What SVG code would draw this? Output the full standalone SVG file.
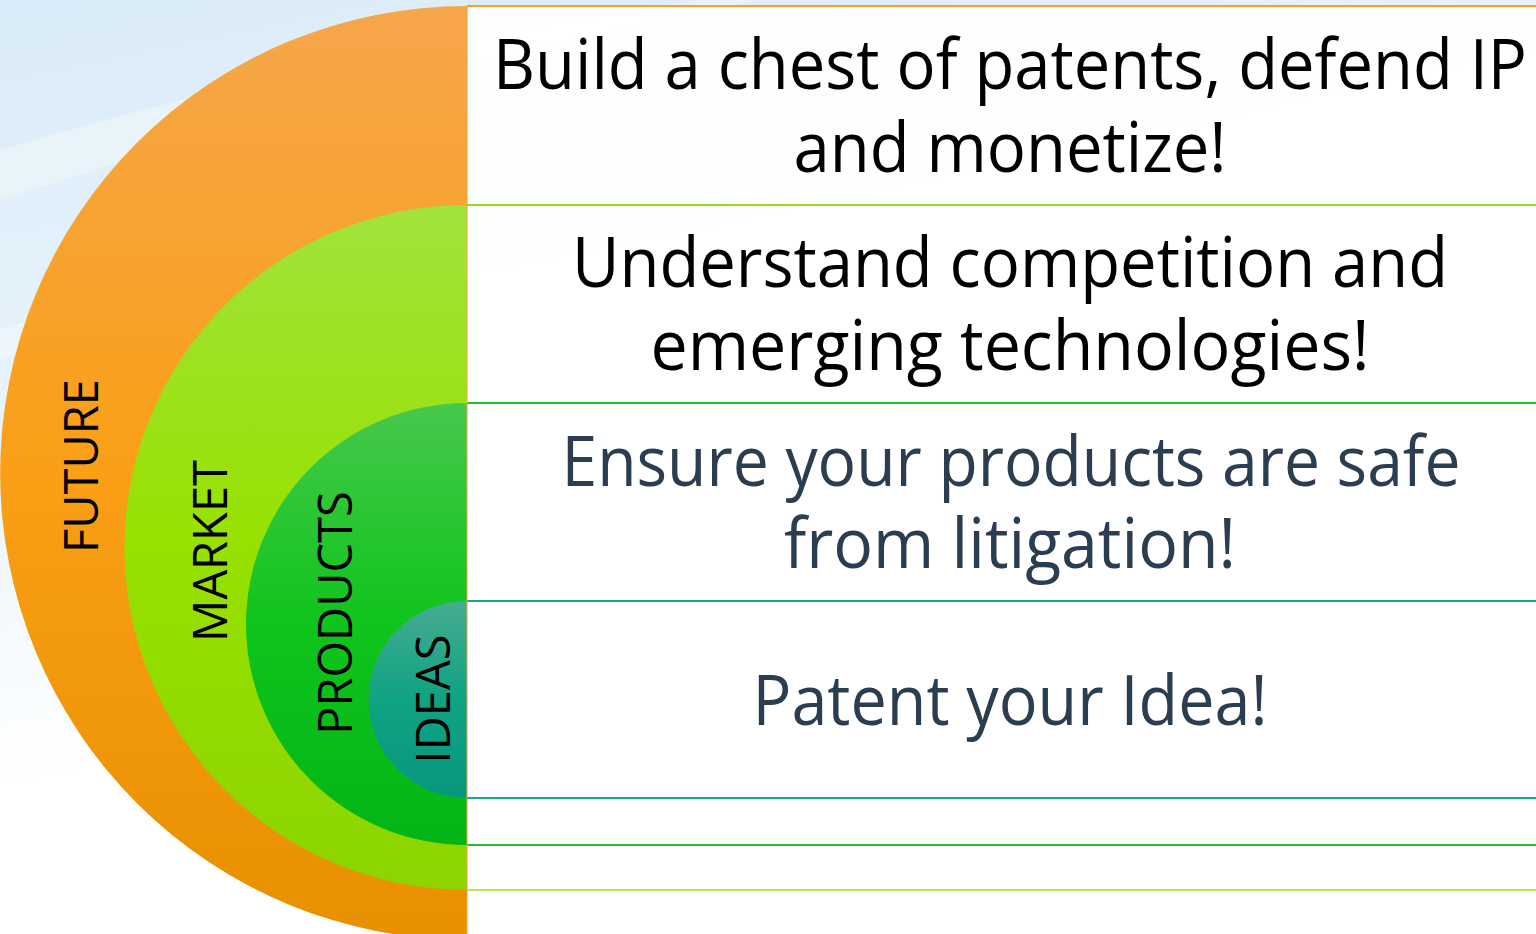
<svg xmlns="http://www.w3.org/2000/svg" width="1536" height="934" viewBox="0 0 1536 934">
  <defs>
    <linearGradient id="bg" x1="0" y1="0" x2="0.35" y2="1">
      <stop offset="0" stop-color="#d9ebf8"/>
      <stop offset="0.45" stop-color="#eaf5fc"/>
      <stop offset="0.75" stop-color="#ffffff"/>
    </linearGradient>
    <linearGradient id="gOrange" x1="0" y1="0" x2="0" y2="1">
      <stop offset="0" stop-color="#f6a64c"/>
      <stop offset="0.5" stop-color="#fa9f16"/>
      <stop offset="1" stop-color="#e89000"/>
    </linearGradient>
    <linearGradient id="gLime" x1="0" y1="0" x2="0" y2="1">
      <stop offset="0" stop-color="#a2e33c"/>
      <stop offset="0.5" stop-color="#97e100"/>
      <stop offset="1" stop-color="#8dd400"/>
    </linearGradient>
    <linearGradient id="gGreen" x1="0" y1="0" x2="0" y2="1">
      <stop offset="0" stop-color="#47c84c"/>
      <stop offset="0.5" stop-color="#0fc41c"/>
      <stop offset="1" stop-color="#03b516"/>
    </linearGradient>
    <linearGradient id="gTeal" x1="0" y1="0" x2="0" y2="1">
      <stop offset="0" stop-color="#47ab92"/>
      <stop offset="0.5" stop-color="#10a382"/>
      <stop offset="1" stop-color="#07977e"/>
    </linearGradient>
  </defs>
  <style>
    .lbl { font-family: "Open Sans", "Noto Sans", "DejaVu Sans", sans-serif; font-size: 47px; fill: #000; text-anchor: middle; }
    .txt { font-family: "Open Sans", "Noto Sans", "DejaVu Sans", sans-serif; font-size: 70px; text-anchor: middle; }
    .dark { fill: #000; }
    .slate { fill: #2b3d50; }
    .sep { stroke-width: 2; fill: none; }
  </style>

  <rect x="0" y="0" width="1536" height="934" fill="url(#bg)"/>
  <g opacity="0.3" fill="#ffffff">
    <path d="M0 150 C 200 90, 420 40, 700 0 L 760 0 C 460 60, 220 130, 0 200 Z"/>
    <path d="M0 330 C 160 280, 320 240, 480 210 L 480 230 C 320 260, 160 300, 0 360 Z"/>
  </g>

  <rect id="panel" x="467" y="6" width="1069" height="928" fill="#ffffff" opacity="0.93"/>

  <g id="future">
    <path d="M467 6 A467 467 0 0 0 467 940 Z" fill="url(#gOrange)"/>
    <text class="lbl" transform="rotate(-90 98 466)" x="98" y="466">FUTURE</text>
  </g>
  <g id="market">
    <path d="M467 205 A342.5 342.5 0 0 0 467 890 Z" fill="url(#gLime)"/>
    <text class="lbl" transform="rotate(-90 227 551)" x="227" y="551">MARKET</text>
  </g>
  <g id="products">
    <path d="M467 403 A221 221 0 0 0 467 845 Z" fill="url(#gGreen)"/>
    <text class="lbl" transform="rotate(-90 352 613)" x="352" y="613">PRODUCTS</text>
  </g>
  <g id="ideas">
    <path d="M467 601 A98.5 98.5 0 0 0 467 798 Z" fill="url(#gTeal)"/>
    <text class="lbl" transform="rotate(-90 450 699)" x="450" y="699">IDEAS</text>
  </g>

  <g id="connectors">
    <line class="sep" x1="467" y1="6" x2="1536" y2="6" stroke="#f9a224"/>
    <line class="sep" x1="467" y1="205" x2="1536" y2="205" stroke="#93dc1c"/>
    <line class="sep" x1="467" y1="403" x2="1536" y2="403" stroke="#1ec22c"/>
    <line class="sep" x1="467" y1="601" x2="1536" y2="601" stroke="#12aa88"/>
    <line class="sep" x1="467" y1="798" x2="1536" y2="798" stroke="#12aa88"/>
    <line class="sep" x1="467" y1="845" x2="1536" y2="845" stroke="#2cbc30"/>
    <line class="sep" x1="467" y1="890" x2="1536" y2="890" stroke="#b6e65a"/>
    <line x1="467" y1="6" x2="467" y2="934" stroke="#f2a030" stroke-width="1"/>
  </g>

  <g id="row1">
    <text class="txt dark" x="1010" y="89" textLength="1034" lengthAdjust="spacingAndGlyphs">Build a chest of patents, defend IP</text>
    <text class="txt dark" x="1010" y="172" textLength="433" lengthAdjust="spacingAndGlyphs">and monetize!</text>
  </g>
  <g id="row2">
    <text class="txt dark" x="1010" y="287" textLength="876" lengthAdjust="spacingAndGlyphs">Understand competition and</text>
    <text class="txt dark" x="1010" y="370" textLength="719" lengthAdjust="spacingAndGlyphs">emerging technologies!</text>
  </g>
  <g id="row3">
    <text class="txt slate" x="1011" y="486" textLength="899" lengthAdjust="spacingAndGlyphs">Ensure your products are safe</text>
    <text class="txt slate" x="1010" y="568" textLength="452" lengthAdjust="spacingAndGlyphs">from litigation!</text>
  </g>
  <g id="row4">
    <text class="txt slate" x="1010" y="725" textLength="515" lengthAdjust="spacingAndGlyphs">Patent your Idea!</text>
  </g>
</svg>
